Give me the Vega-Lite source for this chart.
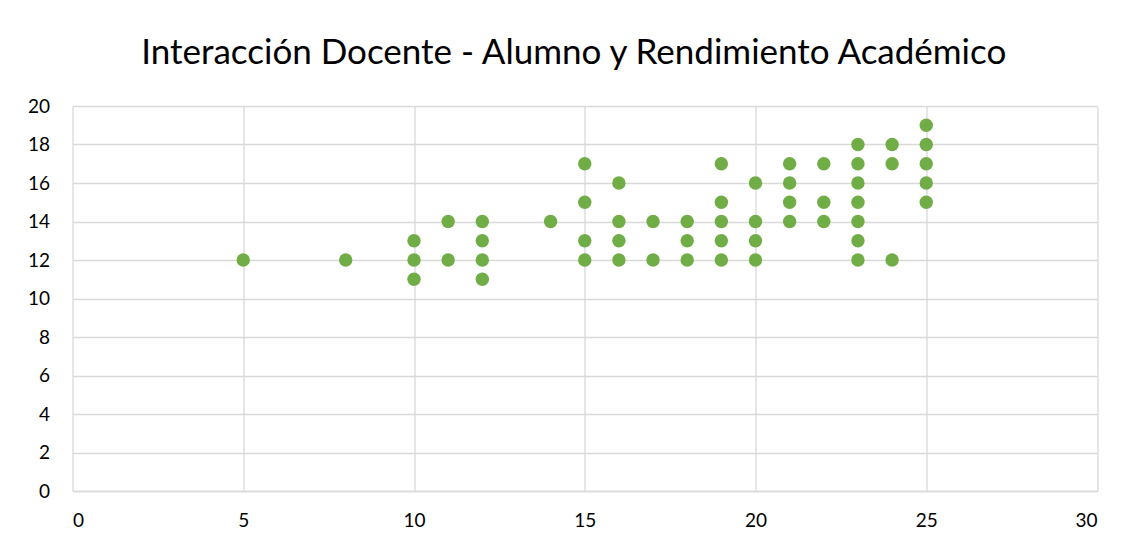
{
  "$schema": "https://vega.github.io/schema/vega-lite/v6.json",
  "autosize": "none",
  "width": 1024.5,
  "height": 385,
  "padding": {"left": 72.5, "top": 106, "right": 35, "bottom": 55},
  "background": "white",
  "title": {
    "text": "Interacción Docente - Alumno y Rendimiento Académico",
    "font": "Lato",
    "fontSize": 35,
    "fontWeight": "normal",
    "color": "#000000",
    "anchor": "middle",
    "baseline": "alphabetic",
    "offset": -2,
    "dx": -11
  },
  "data": {
    "values": [
      {"interaccion": 5, "rendimiento": 12},
      {"interaccion": 8, "rendimiento": 12},
      {"interaccion": 10, "rendimiento": 13},
      {"interaccion": 10, "rendimiento": 12},
      {"interaccion": 10, "rendimiento": 11},
      {"interaccion": 11, "rendimiento": 14},
      {"interaccion": 11, "rendimiento": 12},
      {"interaccion": 12, "rendimiento": 14},
      {"interaccion": 12, "rendimiento": 13},
      {"interaccion": 12, "rendimiento": 12},
      {"interaccion": 12, "rendimiento": 11},
      {"interaccion": 14, "rendimiento": 14},
      {"interaccion": 15, "rendimiento": 17},
      {"interaccion": 15, "rendimiento": 15},
      {"interaccion": 15, "rendimiento": 13},
      {"interaccion": 15, "rendimiento": 12},
      {"interaccion": 16, "rendimiento": 16},
      {"interaccion": 16, "rendimiento": 14},
      {"interaccion": 16, "rendimiento": 13},
      {"interaccion": 16, "rendimiento": 12},
      {"interaccion": 17, "rendimiento": 14},
      {"interaccion": 17, "rendimiento": 12},
      {"interaccion": 18, "rendimiento": 14},
      {"interaccion": 18, "rendimiento": 13},
      {"interaccion": 18, "rendimiento": 12},
      {"interaccion": 19, "rendimiento": 17},
      {"interaccion": 19, "rendimiento": 15},
      {"interaccion": 19, "rendimiento": 14},
      {"interaccion": 19, "rendimiento": 13},
      {"interaccion": 19, "rendimiento": 12},
      {"interaccion": 20, "rendimiento": 16},
      {"interaccion": 20, "rendimiento": 14},
      {"interaccion": 20, "rendimiento": 13},
      {"interaccion": 20, "rendimiento": 12},
      {"interaccion": 21, "rendimiento": 17},
      {"interaccion": 21, "rendimiento": 16},
      {"interaccion": 21, "rendimiento": 15},
      {"interaccion": 21, "rendimiento": 14},
      {"interaccion": 22, "rendimiento": 17},
      {"interaccion": 22, "rendimiento": 15},
      {"interaccion": 22, "rendimiento": 14},
      {"interaccion": 23, "rendimiento": 18},
      {"interaccion": 23, "rendimiento": 17},
      {"interaccion": 23, "rendimiento": 16},
      {"interaccion": 23, "rendimiento": 15},
      {"interaccion": 23, "rendimiento": 14},
      {"interaccion": 23, "rendimiento": 13},
      {"interaccion": 23, "rendimiento": 12},
      {"interaccion": 24, "rendimiento": 18},
      {"interaccion": 24, "rendimiento": 17},
      {"interaccion": 24, "rendimiento": 12},
      {"interaccion": 25, "rendimiento": 19},
      {"interaccion": 25, "rendimiento": 18},
      {"interaccion": 25, "rendimiento": 17},
      {"interaccion": 25, "rendimiento": 16},
      {"interaccion": 25, "rendimiento": 15}
    ]
  },
  "mark": {"type": "circle", "size": 180, "color": "#70AD47", "opacity": 1},
  "encoding": {
    "x": {
      "field": "interaccion",
      "type": "quantitative",
      "scale": {"domain": [0, 30], "nice": false, "zero": true},
      "axis": {
        "title": null,
        "values": [0, 5, 10, 15, 20, 25, 30],
        "grid": true,
        "gridColor": "#d9d9d9",
        "gridWidth": 1.3,
        "domain": true,
        "domainColor": "#d9d9d9",
        "domainWidth": 1.3,
        "ticks": false,
        "labelPadding": 20,
        "labelFont": "Lato",
        "labelFontSize": 19,
        "labelColor": "#000000"
      }
    },
    "y": {
      "field": "rendimiento",
      "type": "quantitative",
      "scale": {"domain": [0, 20], "nice": false, "zero": true},
      "axis": {
        "title": null,
        "values": [0, 2, 4, 6, 8, 10, 12, 14, 16, 18, 20],
        "grid": true,
        "gridColor": "#d9d9d9",
        "gridWidth": 1.3,
        "domain": false,
        "ticks": false,
        "labelPadding": 23,
        "labelFont": "Lato",
        "labelFontSize": 19,
        "labelColor": "#000000"
      }
    }
  },
  "config": {
    "view": {"stroke": null}
  }
}
